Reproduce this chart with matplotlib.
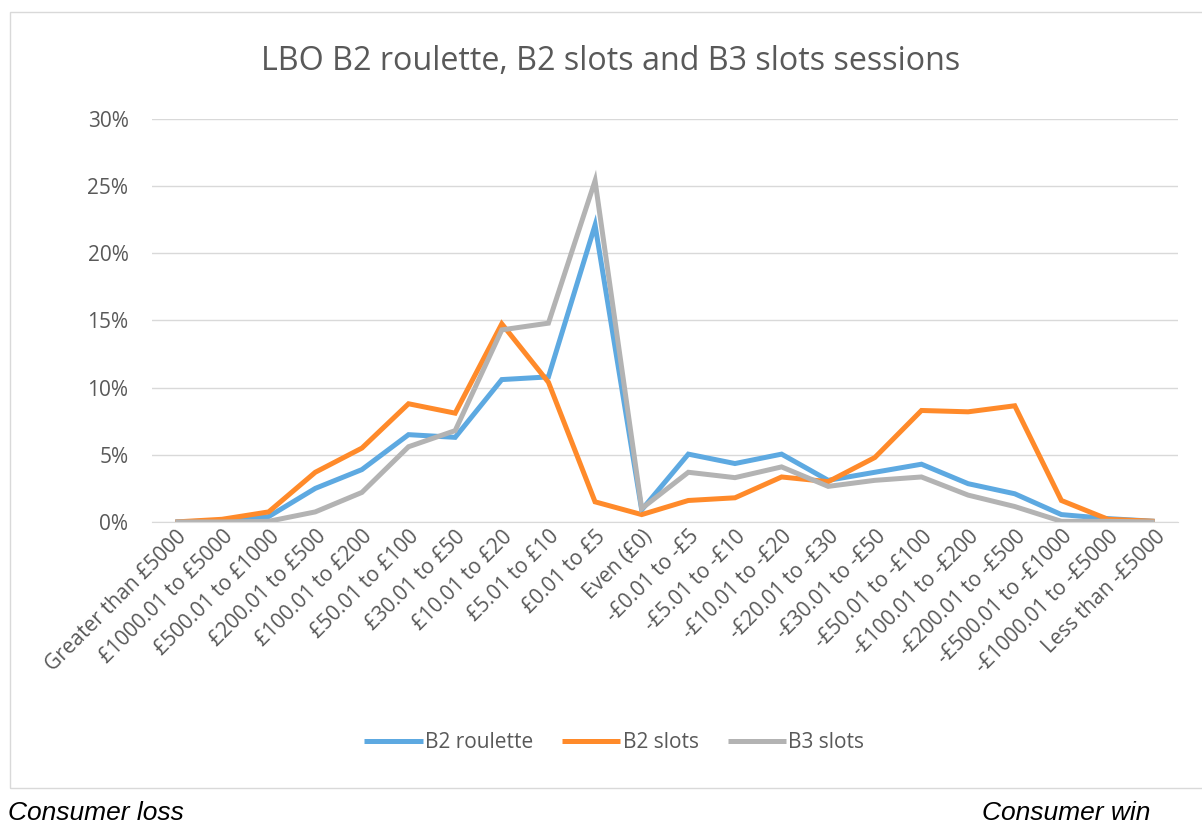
import matplotlib
matplotlib.use("Agg")
import matplotlib.pyplot as plt
from matplotlib.patches import Rectangle
from matplotlib.ticker import PercentFormatter

categories = [
    "Greater than £5000", "£1000.01 to £5000", "£500.01 to £1000", "£200.01 to £500",
    "£100.01 to £200", "£50.01 to £100", "£30.01 to £50", "£10.01 to £20",
    "£5.01 to £10", "£0.01 to £5", "Even (£0)", "-£0.01 to -£5",
    "-£5.01 to -£10", "-£10.01 to -£20", "-£20.01 to -£30", "-£30.01 to -£50",
    "-£50.01 to -£100", "-£100.01 to -£200", "-£200.01 to -£500", "-£500.01 to -£1000",
    "-£1000.01 to -£5000", "Less than -£5000",
]

# session share (%)
b2_roulette = [0.0, 0.1, 0.4, 2.5, 3.9, 6.5, 6.3, 10.6, 10.8, 22.1, 0.9,
               5.05, 4.35, 5.05, 3.1, 3.7, 4.3, 2.85, 2.1, 0.55, 0.25, 0.05]
b2_slots = [0.0, 0.2, 0.75, 3.7, 5.5, 8.8, 8.1, 14.75, 10.4, 1.5, 0.55,
            1.6, 1.8, 3.35, 3.0, 4.8, 8.3, 8.2, 8.65, 1.6, 0.2, 0.05]
b3_slots = [0.0, 0.0, 0.05, 0.75, 2.2, 5.6, 6.8, 14.3, 14.8, 25.4, 1.0,
            3.7, 3.3, 4.1, 2.65, 3.1, 3.35, 2.0, 1.15, 0.05, 0.05, 0.0]

series = [("B2 roulette", b2_roulette, "#5DA9E1"),
          ("B2 slots", b2_slots, "#FF8A2A"),
          ("B3 slots", b3_slots, "#B3B3B3")]

text_col = "#595959"
grid_col = "#D9D9D9"
plt.rcParams["font.family"] = ["Open Sans", "DejaVu Sans"]

fig = plt.figure(figsize=(12.02, 8.25), dpi=100)
ax = fig.add_axes([0.1265, 0.3673, 0.8535, 0.4885])

x = list(range(len(categories)))
for name, vals, col in series:
    ax.plot(x, [v / 100 for v in vals], color=col, lw=3.6, label=name,
            solid_joinstyle="miter", solid_capstyle="butt")

ax.set_xlim(-0.5, len(categories) - 0.5)
ax.set_ylim(0, 0.30)
ax.set_yticks([0, 0.05, 0.10, 0.15, 0.20, 0.25, 0.30])
ax.yaxis.set_major_formatter(PercentFormatter(1.0, decimals=0))
ax.grid(axis="y", color=grid_col, lw=1)
ax.set_axisbelow(True)
for s in ["top", "right", "left"]:
    ax.spines[s].set_visible(False)
ax.spines["bottom"].set_color(grid_col)
ax.tick_params(axis="y", length=0, pad=17, labelsize=15, labelcolor=text_col)
ax.tick_params(axis="x", length=0, pad=3, labelsize=15, labelcolor=text_col)
ax.set_xticks(x)
ax.set_xticklabels(categories, rotation=45, ha="right", rotation_mode="anchor")

fig.text(0.508, 0.925, "LBO B2 roulette, B2 slots and B3 slots sessions",
         ha="center", va="center", fontsize=23.2, color=text_col)

leg = fig.legend(loc="center", bbox_to_anchor=(0.511, 0.0994), ncol=3, frameon=False,
                 fontsize=15, handlelength=2.8, handletextpad=0.1, columnspacing=1.4)
for t in leg.get_texts():
    t.set_color(text_col)

fig.patches.append(Rectangle((0.0083, 0.0448), 1.0, 0.9407, transform=fig.transFigure,
                             fill=False, edgecolor=grid_col, lw=1))

fig.text(0.007, 0.015, "Consumer loss", fontsize=19, style="italic",
         family="Liberation Sans", ha="left", va="center")
fig.text(0.957, 0.015, "Consumer win", fontsize=19, style="italic",
         family="Liberation Sans", ha="right", va="center")

fig.savefig("out.png", dpi=100)
